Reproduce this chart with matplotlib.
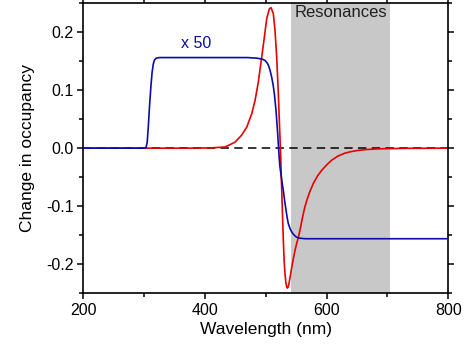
import matplotlib
matplotlib.use("Agg")
import matplotlib.pyplot as plt
from matplotlib.ticker import MultipleLocator, FormatStrFormatter

plt.rcParams['font.family'] = ['Liberation Sans', 'DejaVu Sans']

# Occupancy change, red trace (wavelength in nm, value)
red_wl = [200, 300, 375, 410, 433, 449, 460, 468.6, 476.8, 482.3, 487.7,
          493.3, 497.6, 501.5, 505.8, 508.6, 512.3, 515.1, 517.9, 520.6,
          522.2, 523.9, 525.5, 527, 528.8, 530.2, 531.6, 533, 534.3, 535.5,
          536.8, 538.3, 540, 542.5, 545, 548, 550.5, 553.4, 557, 560, 564,
          568, 572, 578, 585, 592, 600, 608, 618, 630, 640, 652, 666, 685,
          704, 730, 800]
red_val = [0.0, 0.0, 0.0, 0.0005, 0.002, 0.010, 0.022, 0.036, 0.059, 0.082,
           0.114, 0.157, 0.191, 0.223, 0.240, 0.242, 0.232, 0.203, 0.157,
           0.094, 0.048, 0.002, -0.050, -0.100, -0.159, -0.195, -0.217,
           -0.232, -0.239, -0.241, -0.239, -0.232, -0.222, -0.206, -0.192,
           -0.176, -0.165, -0.1545, -0.137, -0.121, -0.102, -0.088, -0.076,
           -0.061, -0.048, -0.038, -0.029, -0.021, -0.014, -0.0086, -0.0060,
           -0.0038, -0.0023, -0.0012, -0.0008, -0.0003, 0.0]

# Occupancy change, blue trace (scaled x 50)
blue_wl = [200, 300, 303, 305, 307, 309, 311, 313, 315, 317, 320, 325, 340,
           400, 470, 485, 490.5, 495, 498.7, 502, 504.2, 507, 509.7, 512,
           514, 516.8, 519.5, 521.6, 523, 525, 527, 528.8, 531, 533, 535, 537,
           540, 543, 546, 550, 555, 565, 800]
blue_val = [0.0, 0.0, 0.001, 0.010, 0.040, 0.075, 0.105, 0.130, 0.145, 0.152,
            0.155, 0.156, 0.156, 0.156, 0.156, 0.155, 0.154, 0.153, 0.151,
            0.147, 0.143, 0.134, 0.122, 0.109, 0.094, 0.065, 0.025, -0.010,
            -0.030, -0.046, -0.061, -0.073, -0.091, -0.105, -0.119, -0.130,
            -0.139, -0.145, -0.149, -0.153, -0.155, -0.156, -0.156]

band = (541, 704)

fig = plt.figure(figsize=(4.70, 3.53), dpi=100)
ax = fig.add_axes([0.1773, 0.1691, 0.9538 - 0.1773, 0.9915 - 0.1691])

ax.axvspan(band[0], band[1], color='#c8c8c8', lw=0, zorder=0)
ax.plot([200, 800], [0, 0], color='black', lw=1.1, dashes=(5.5, 3.5), zorder=1)
ax.plot(red_wl, red_val, color='#e80000', lw=1.2, zorder=2)
ax.plot(blue_wl, blue_val, color='#0c0ca8', lw=1.2, zorder=3)

ax.text(623.5, 0.226, 'Resonances', ha='center', va='baseline', fontsize=12,
        color='#202020')
ax.text(386, 0.172, 'x 50', ha='center', va='baseline', fontsize=11.5,
        color='#0c0ca8')

ax.set_xlim(200, 800)
ax.set_ylim(-0.25, 0.25)
ax.xaxis.set_major_locator(MultipleLocator(200))
ax.xaxis.set_minor_locator(MultipleLocator(100))
ax.yaxis.set_major_locator(MultipleLocator(0.1))
ax.yaxis.set_minor_locator(MultipleLocator(0.05))
ax.yaxis.set_major_formatter(FormatStrFormatter('%.1f'))

for s in ax.spines.values():
    s.set_linewidth(1.2)
ax.tick_params(which='both', direction='out', width=1.1, labelsize=11.5,
               top=True, right=True)
ax.tick_params(which='major', length=4, pad=3)
ax.tick_params(which='minor', length=3)

ax.set_xlabel('Wavelength (nm)', fontsize=12.5, labelpad=3)
ax.set_ylabel('Change in occupancy', fontsize=12.5, labelpad=8)

fig.savefig('out.png', dpi=100)
